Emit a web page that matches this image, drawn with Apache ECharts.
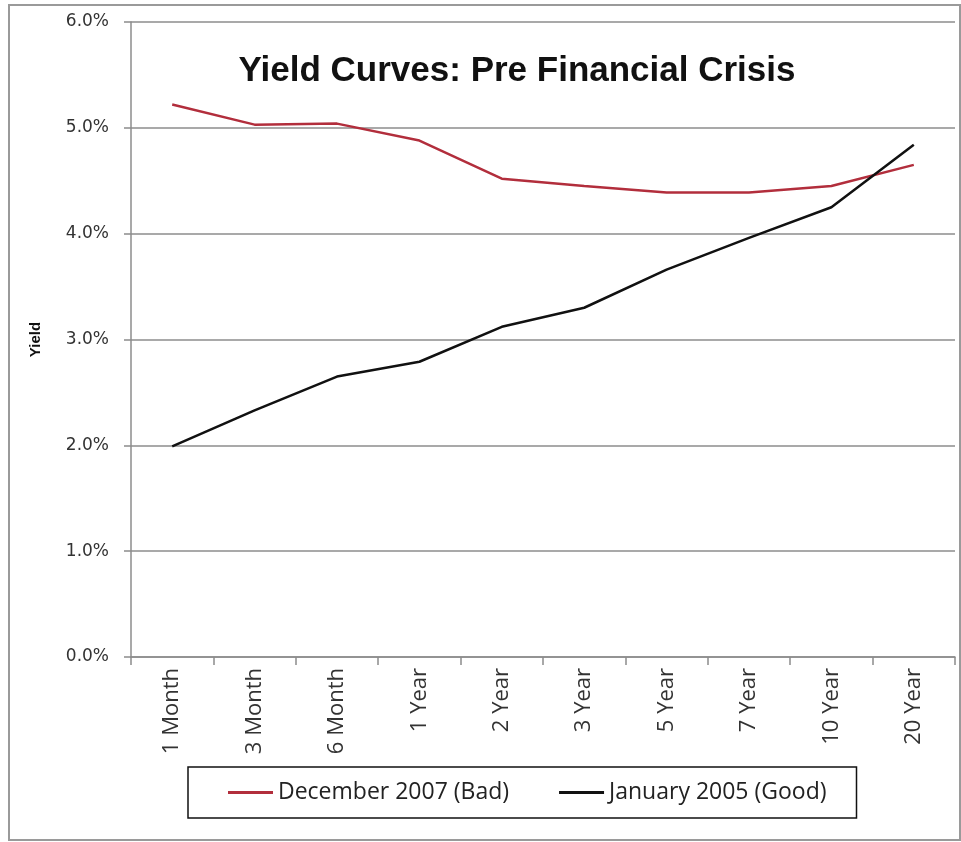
<!DOCTYPE html>
<html>
<head>
<meta charset="utf-8">
<script src="https://cdn.jsdelivr.net/npm/echarts@6/dist/echarts.min.js"></script>
<style>
  html, body { margin: 0; padding: 0; background: #fff; }
  #chart { width: 961px; height: 842px; }
</style>
</head>
<body>
<div id="chart"></div>
<script>
  // maturities on the x axis
  var maturities = ['1 Month', '3 Month', '6 Month', '1 Year', '2 Year', '3 Year', '5 Year', '7 Year', '10 Year', '20 Year'];
  // yields in percent
  var dec2007 = [5.22, 5.03, 5.04, 4.88, 4.52, 4.45, 4.39, 4.39, 4.45, 4.65];
  var jan2005 = [1.99, 2.33, 2.65, 2.79, 3.12, 3.30, 3.66, 3.96, 4.25, 4.84];
  var seriesNames = ['December 2007 (Bad)', 'January 2005 (Good)'];

  var chart = echarts.init(document.getElementById('chart'));
  chart.setOption({
    animation: false,
    backgroundColor: '#fff',
    title: {
      text: 'Yield Curves: Pre Financial Crisis',
      left: 512,
      top: 49,
      textAlign: 'center',
      textStyle: { fontFamily: 'Liberation Sans', fontWeight: 'bold', fontSize: 35, color: '#111' }
    },
    graphic: [{
      type: 'rect',
      shape: { x: 9, y: 5, width: 951, height: 835 },
      style: { fill: 'none', stroke: '#9a9a9a', lineWidth: 2 },
      silent: true
    }],
    legend: {
      data: seriesNames,
      left: 188,
      top: 767,
      padding: [14, 30, 14, 40],
      borderColor: '#111',
      borderWidth: 1.5,
      itemGap: 50,
      icon: 'rect',
      itemWidth: 45,
      itemHeight: 3,
      textStyle: { fontFamily: 'Open Sans', fontSize: 23, color: '#222' }
    },
    grid: { left: 131, right: 6, top: 22, bottom: 185 },
    xAxis: {
      type: 'category',
      data: maturities,
      boundaryGap: true,
      axisLine: { lineStyle: { color: '#8c8c8c', width: 1.5 } },
      axisTick: { show: true, length: 8, lineStyle: { color: '#8c8c8c', width: 1.5 } },
      axisLabel: { rotate: 90, margin: 11, fontFamily: 'Open Sans', fontSize: 22, color: '#333' }
    },
    yAxis: {
      type: 'value',
      min: 0,
      max: 6,
      interval: 1,
      name: 'Yield',
      nameLocation: 'middle',
      nameGap: 88,
      nameRotate: 90,
      nameTextStyle: { fontFamily: 'Liberation Sans', fontWeight: 'bold', fontSize: 15, color: '#111' },
      axisLine: { show: true, lineStyle: { color: '#8c8c8c', width: 1.5 } },
      axisTick: { show: true, length: 7, lineStyle: { color: '#8c8c8c', width: 1.5 } },
      splitLine: { lineStyle: { color: '#8c8c8c', width: 1.5 } },
      axisLabel: {
        margin: 22,
        fontFamily: 'DejaVu Sans',
        fontSize: 17,
        color: '#333',
        formatter: function (v) { return v.toFixed(1) + '%'; }
      }
    },
    series: [
      {
        name: seriesNames[0],
        type: 'line',
        data: dec2007,
        showSymbol: false,
        color: '#b22e3c',
        lineStyle: { width: 2.5, color: '#b22e3c' }
      },
      {
        name: seriesNames[1],
        type: 'line',
        data: jan2005,
        showSymbol: false,
        color: '#111',
        lineStyle: { width: 2.5, color: '#111' }
      }
    ]
  });
</script>
</body>
</html>
